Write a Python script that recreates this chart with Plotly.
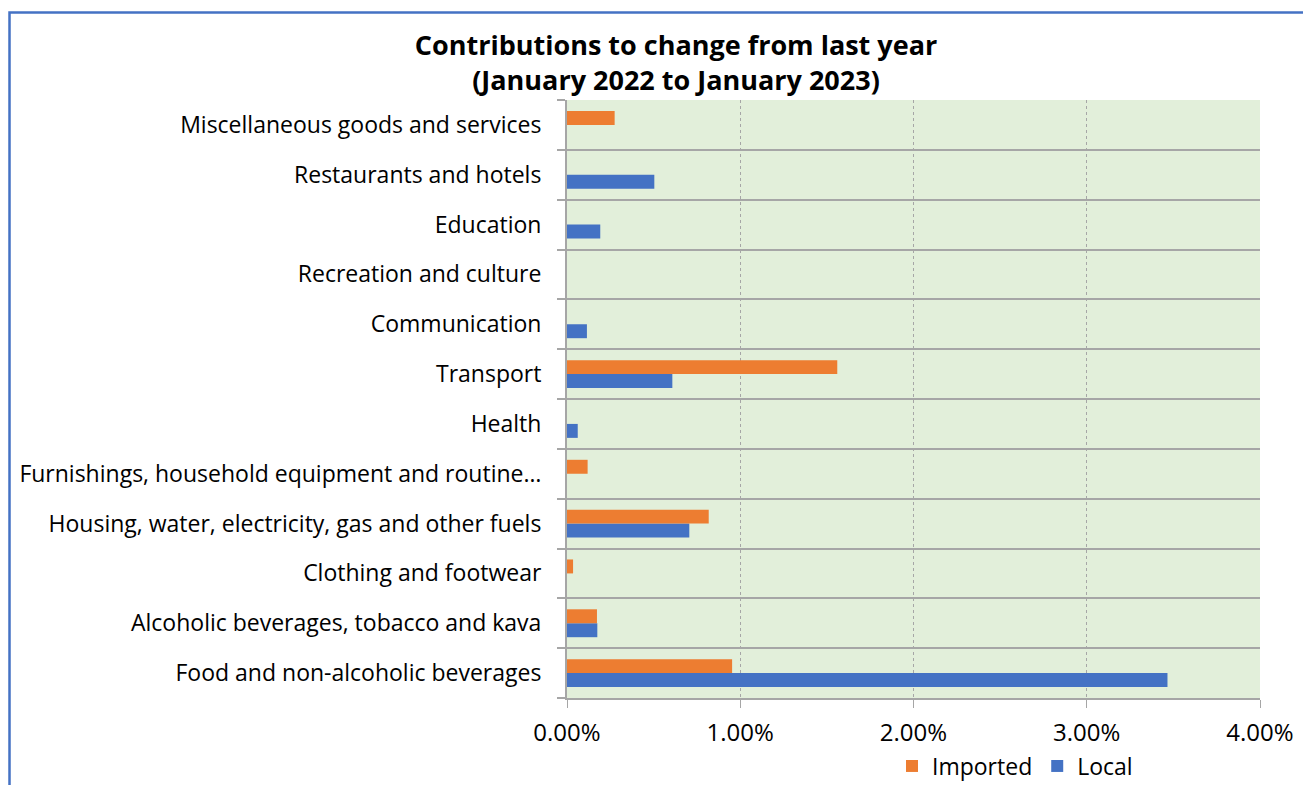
import plotly.graph_objects as go

categories = [
    "Food and non-alcoholic beverages",
    "Alcoholic beverages, tobacco and kava",
    "Clothing and footwear",
    "Housing, water, electricity, gas and other fuels",
    "Furnishings, household equipment and routine…",
    "Health",
    "Transport",
    "Communication",
    "Recreation and culture",
    "Education",
    "Restaurants and hotels",
    "Miscellaneous goods and services",
]
imported = [0.953, 0.173, 0.035, 0.818, 0.119, 0.0, 1.560, 0.0, 0.0, 0.0, 0.0, 0.275]
local = [3.466, 0.175, 0.0, 0.706, 0.0, 0.062, 0.608, 0.115, 0.0, 0.192, 0.504, 0.0]
x_ticks = [0, 1, 2, 3, 4]
x_tick_labels = ["0.00%", "1.00%", "2.00%", "3.00%", "4.00%"]

FONT = "Open Sans"
OFF = 8  # page body margin
W, H = 1311 - OFF, 785 - OFF
L, R, T, B = 567 - OFF, 1311 - 1260, 100 - OFF, 785 - 698

fig = go.Figure()
fig.add_trace(go.Bar(y=categories, x=local, name="Local", orientation="h",
                     marker=dict(color="#4472C4", line=dict(width=0)), legendrank=2))
fig.add_trace(go.Bar(y=categories, x=imported, name="Imported", orientation="h",
                     marker=dict(color="#ED7D31", line=dict(width=0)), legendrank=1))

fig.update_layout(
    width=W, height=H,
    margin=dict(l=L, r=R, t=T, b=B, autoexpand=False),
    paper_bgcolor="white",
    plot_bgcolor="#E2EFDA",
    barmode="group",
    bargap=0.44,
    bargroupgap=0,
    font=dict(family=FONT, size=23, color="#000000"),
    title=dict(
        text="<b>Contributions to change from last year<br>(January 2022 to January 2023)</b>",
        x=(676 - OFF) / W, xref="container", xanchor="center",
        y=1 - (55 - OFF) / H, yref="container", yanchor="middle",
        font=dict(family=FONT, size=27, color="#000000"),
    ),
    legend=dict(orientation="h", x=(1015 - OFF) / W, xref="container", xanchor="center",
                y=1 - (766 - OFF) / H, yref="container", yanchor="middle",
                font=dict(size=23), itemwidth=30, traceorder="normal"),
    showlegend=True,
)
fig.update_xaxes(
    range=[0, 4], tickvals=x_ticks, ticktext=x_tick_labels,
    showgrid=True, gridcolor="#A6A6A6", griddash="dot", gridwidth=1,
    zeroline=False, showline=True, linecolor="#A6A6A6", linewidth=2,
    ticks="outside", ticklen=8, tickcolor="#A6A6A6", tickwidth=1,
    ticklabelstandoff=4, tickfont=dict(size=24),
)
fig.update_yaxes(
    type="category", categoryorder="array", categoryarray=categories,
    tickson="boundaries", showgrid=True, gridcolor="#A6A6A6", gridwidth=2,
    showline=True, linecolor="#A6A6A6", linewidth=2,
    ticks="outside", ticklen=8, tickcolor="#A6A6A6", tickwidth=2,
    ticklabelstandoff=19,
)
fig.add_shape(type="rect", xref="paper", yref="paper",
              x0=(9.5 - 567) / 693, x1=1.3, y0=-0.3, y1=(698 - 12.5) / 598,
              line=dict(color="#4472C4", width=2.5), fillcolor="rgba(0,0,0,0)", layer="above")
fig.write_html("out.html")
